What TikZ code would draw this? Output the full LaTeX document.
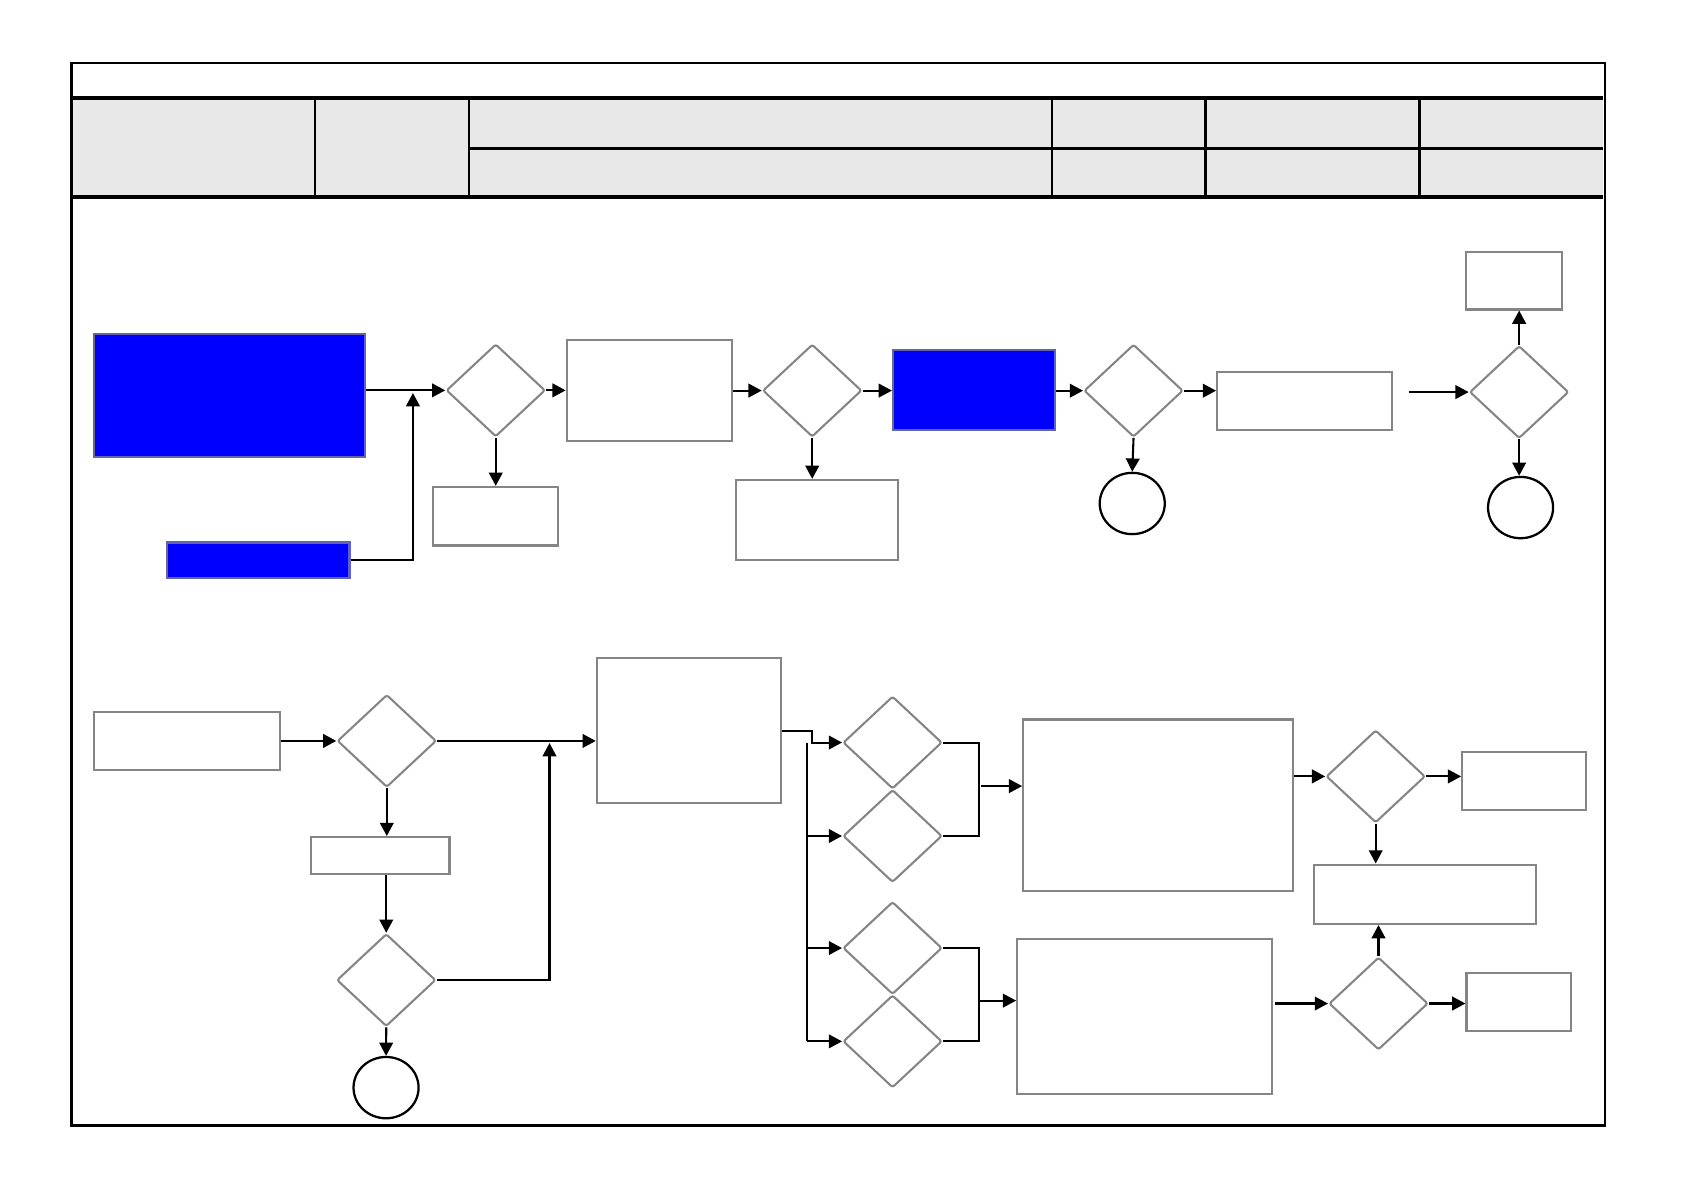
\documentclass[tikz,border=0pt]{standalone}
\usetikzlibrary{shapes.geometric,arrows.meta}
\definecolor{bordergray}{RGB}{133,133,133}
\definecolor{blueborder}{RGB}{100,100,170}
\definecolor{headgray}{RGB}{232,232,232}
\begin{document}
\begin{tikzpicture}[x=0.1mm,y=-0.1mm,
  box/.style={rectangle,draw=bordergray,line width=0.55pt,fill=white,inner sep=0pt},
  bluebox/.style={rectangle,draw=blueborder,line width=0.55pt,fill=blue,inner sep=0pt},
  dec/.style={diamond,draw=bordergray,line width=0.55pt,fill=white,inner sep=0pt,minimum width=9.2mm,minimum height=8.6mm,rounded corners=0.6pt},
  term/.style={ellipse,draw=black,line width=0.6pt,fill=white,inner sep=0pt,minimum width=6.05mm,minimum height=5.7mm},
  conn/.style={draw=black,line width=0.55pt},
  arr/.style={conn,-{Triangle[length=3.5pt,width=3.6pt]}},
  thickrule/.style={line width=1.1pt},
  thinrule/.style={line width=0.6pt}]
\useasboundingbox (0,0) rectangle (1566,1107);

% header table
\fill[headgray] (66.5,91) rectangle (1491,183);
\draw[thickrule] (66.5,91) -- (1491,91);
\draw[thickrule] (66.5,183) -- (1491,183);
\draw[thinrule] (436,138) -- (1491,138);
\foreach \xx in {293,436,978,1121,1320} \draw[thinrule] (\xx,91) -- (\xx,183);
\draw[line width=0.7pt] (66.5,58.5) rectangle (1492.5,1046.5);

% ---------- row 1 ----------
\node[bluebox,minimum width=25.2mm,minimum height=11.4mm] (B1) at (213,368) {};
\node[bluebox,minimum width=17.0mm,minimum height=3.3mm] (B2) at (240,521) {};
\node[dec] (D1) at (461,363) {};
\node[box,minimum width=11.65mm,minimum height=5.45mm] (R1) at (460.75,480) {};
\node[box,minimum width=15.4mm,minimum height=9.4mm] (R2) at (604,362.8) {};
\node[dec] (D2) at (755.3,363.2) {};
\node[box,minimum width=15.1mm,minimum height=7.47mm] (R3) at (759.5,483.6) {};
\node[bluebox,minimum width=15.04mm,minimum height=7.44mm] (B3) at (905.6,362.8) {};
\node[dec] (D3) at (1054.1,363.3) {};
\node[term] (C1) at (1052.9,468.2) {};
\node[box,minimum width=16.28mm,minimum height=5.43mm] (R4) at (1213.2,372.9) {};
\node[dec] (D4) at (1412.7,364.6) {};
\node[box,minimum width=8.9mm,minimum height=5.36mm] (R5) at (1408,261) {};
\node[term] (C2) at (1414,472) {};

\coordinate (j1) at (384,365.5);
\coordinate (s1) at (1310,364.6);

\draw[arr] (B1.east |- D1.west) -- (D1.west);
\draw[arr] (B2.east) -| (j1);
\draw[arr] (D1.south) -- (D1.south |- R1.north);
\draw[arr] (D1.east) -- (D1.east -| R2.west);
\draw[arr] (R2.east |- D2.west) -- (D2.west);
\draw[arr] (D2.south) -- (D2.south |- R3.north);
\draw[arr] (D2.east) -- (D2.east -| B3.west);
\draw[arr] (B3.east |- D3.west) -- (D3.west);
\draw[arr] (D3.south) -- (C1.north);
\draw[arr] (D3.east) -- (D3.east -| R4.west);
\draw[arr] (s1) -- (D4.west);
\draw[arr] (D4.north) -- (D4.north |- R5.south);
\draw[arr] (D4.south) -- (D4.south |- C2.north);

% ---------- row 2 ----------
\node[box,minimum width=17.3mm,minimum height=5.4mm] (R6) at (173.5,689) {};
\node[dec] (D5) at (359.7,689) {};
\node[box,minimum width=12.9mm,minimum height=3.4mm] (R7) at (353.5,795.4) {};
\node[dec] (D6) at (359.2,911.4) {};
\node[term] (C3) at (359,1011.4) {};
\node[box,minimum width=17.1mm,minimum height=13.5mm] (R8) at (640.5,679.5) {};

\node[dec] (D7) at (830,690.5) {};
\node[dec] (D8) at (830,777.4) {};
\node[dec] (D9) at (830,881.6) {};
\node[dec] (D10) at (830,968.4) {};

\node[box,minimum width=25.1mm,minimum height=15.95mm] (R9) at (1077,748.8) {};
\node[box,minimum width=23.7mm,minimum height=14.47mm] (R10) at (1064.4,945.4) {};
\node[dec] (D11) at (1279.3,722) {};
\node[box,minimum width=11.5mm,minimum height=5.43mm] (R11) at (1417.2,726.4) {};
\node[box,minimum width=20.6mm,minimum height=5.53mm] (R12) at (1325.3,831.6) {};
\node[dec] (D12) at (1281.9,933.2) {};
\node[box,minimum width=9.74mm,minimum height=5.42mm] (R13) at (1412.4,931.9) {};

\coordinate (j2) at (511,691);
\coordinate (k1) at (755,679.5);
\coordinate (bus) at (750.5,690.5);
\coordinate (f1) at (912.5,731);
\coordinate (f2) at (911,930.5);
\coordinate (f3) at (1186,933.2);

\draw[arr] (R6.east |- D5.west) -- (D5.west);
\draw[arr] (D5.south) -- (D5.south |- R7.north);
\draw[arr] (R7.south -| D6.north) -- (D6.north);
\draw[arr] (D6.south) -- (C3.north);
\draw[arr] (D5.east) -- (D5.east -| R8.west);
\draw[arr] (D6.east) -| (j2);

\draw[arr] (R8.east |- k1) -- (k1) -- (k1 |- D7.west) -- (D7.west);
\draw[conn] (bus) -- (bus |- D10.west);
\draw[arr] (bus |- D8.west) -- (D8.west);
\draw[arr] (bus |- D9.west) -- (D9.west);
\draw[arr] (bus |- D10.west) -- (D10.west);

\draw[conn] (D7.east) -- ++(33.3,0) |- (D8.east);
\draw[conn] (D9.east) -- ++(33.3,0) |- (D10.east);
\draw[arr] (f1) -- (f1 -| R9.west);
\draw[arr] (f2) -- (f2 -| R10.west);

\draw[arr] (R9.east |- D11.west) -- (D11.west);
\draw[arr] (D11.east) -- (D11.east -| R11.west);
\draw[arr] (D11.south) -- (D11.south |- R12.north);
\draw[arr] (f3) -- (D12.west);
\draw[arr] (D12.north) -- (D12.north |- R12.south);
\draw[arr] (D12.east) -- (D12.east -| R13.west);
\end{tikzpicture}
\end{document}
